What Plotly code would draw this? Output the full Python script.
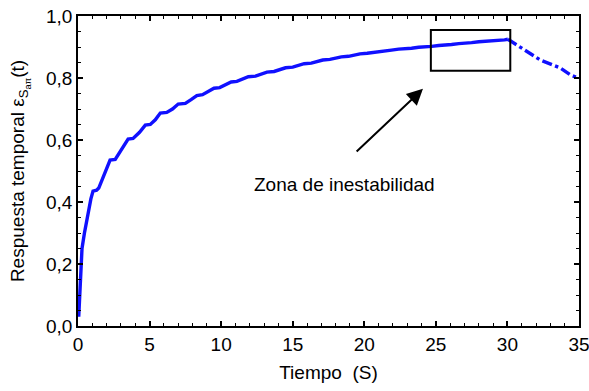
import plotly.graph_objects as go

# Solid part of the response curve
t_solid = [0.05, 0.15, 0.28, 0.45, 0.6, 0.75, 0.9, 1.05, 1.3, 1.45, 1.75, 2.0, 2.24, 2.6, 2.9,
           3.15, 3.5, 3.85, 4.3, 4.7, 5.05, 5.4, 5.75, 6.2, 6.6, 7.0, 7.5, 7.9, 8.3, 8.7,
           9.1, 9.5, 9.9, 10.3, 10.7, 11.1, 11.5, 11.9, 12.4, 12.8, 13.2, 13.7, 14.1, 14.5,
           15.0, 15.4, 15.8, 16.3, 16.7, 17.1, 17.6, 18.0, 18.4, 18.9, 19.3, 19.7, 20.2,
           20.6, 21.0, 21.5, 21.9, 22.4, 22.9, 23.3, 23.8, 24.3, 24.7, 25.2, 25.7, 26.1,
           26.6, 27.1, 27.5, 28.0, 28.5, 28.9, 29.4, 29.8, 30.03]
e_solid = [0.03, 0.13, 0.25, 0.30, 0.34, 0.38, 0.41, 0.435, 0.438, 0.445, 0.477, 0.51, 0.535,
           0.537, 0.56, 0.578, 0.603, 0.605, 0.625, 0.648, 0.650, 0.665, 0.687, 0.689, 0.70,
           0.716, 0.718, 0.73, 0.743, 0.746, 0.755, 0.767, 0.769, 0.777, 0.787, 0.789, 0.796,
           0.804, 0.806, 0.812, 0.819, 0.821, 0.827, 0.833, 0.835, 0.840, 0.846, 0.848, 0.853,
           0.858, 0.860, 0.864, 0.868, 0.870, 0.874, 0.878, 0.880, 0.883, 0.886, 0.888, 0.890,
           0.893, 0.894, 0.896, 0.899, 0.900, 0.902, 0.905, 0.906, 0.908, 0.911, 0.912, 0.914,
           0.917, 0.918, 0.919, 0.922, 0.923, 0.925]

# Dashed (unstable) part
t_dash = [30.03, 30.9, 32.3, 33.7, 34.4, 35.0]
e_dash = [0.925, 0.90, 0.858, 0.832, 0.81, 0.799]

# Instability box and arrow
box_x = [24.65, 30.2]
box_y = [0.823, 0.955]
arrow_tail = [19.36, 0.558]
arrow_tip = [24.1, 0.765]
label_pos = [18.6, 0.455]
label_text = "Zona de inestabilidad"

x_ticks = [0, 5, 10, 15, 20, 25, 30, 35]
y_ticks = [0.0, 0.2, 0.4, 0.6, 0.8, 1.0]

FONT = "Liberation Sans, Arial, sans-serif"
BLUE = "#1010ff"

fig = go.Figure()
fig.add_trace(go.Scatter(x=t_solid, y=e_solid, mode="lines",
                         line=dict(color=BLUE, width=3.4), showlegend=False))
fig.add_trace(go.Scatter(x=t_dash, y=e_dash, mode="lines",
                         line=dict(color=BLUE, width=3.4, dash="dashdot"), showlegend=False))

fig.add_shape(type="rect", xref="x", yref="y", x0=box_x[0], x1=box_x[1],
              y0=box_y[0], y1=box_y[1], line=dict(color="black", width=2))

fig.add_annotation(x=arrow_tip[0], y=arrow_tip[1], ax=arrow_tail[0], ay=arrow_tail[1],
                   xref="x", yref="y", axref="x", ayref="y", text="",
                   showarrow=True, arrowhead=2, arrowsize=1.6, arrowwidth=2,
                   arrowcolor="black")
fig.add_annotation(x=label_pos[0], y=label_pos[1], xref="x", yref="y", text=label_text,
                   showarrow=False, font=dict(family=FONT, size=19, color="black"))

axis_common = dict(showline=True, linecolor="black", linewidth=1.5, mirror="ticks",
                   ticks="inside", ticklen=5, tickwidth=1.5, tickcolor="black",
                   showgrid=False, zeroline=False, automargin=False,
                   ticklabeloverflow="allow",
                   tickfont=dict(family=FONT, size=19, color="black"))

fig.update_xaxes(range=[0, 35], tickvals=x_ticks,
                 ticktext=[str(v) for v in x_ticks],
                 minor=dict(dtick=1, ticks="inside", ticklen=3, tickwidth=1.2,
                            tickcolor="black", showgrid=False),
                 title=dict(text="Tiempo  (S)", font=dict(family=FONT, size=19, color="black"),
                            standoff=12),
                 **axis_common)
fig.update_yaxes(range=[0, 1.0], tickvals=y_ticks,
                 ticktext=[f"{v:.1f}".replace(".", ",") for v in y_ticks],
                 minor=dict(dtick=0.05, ticks="inside", ticklen=3, tickwidth=1.2,
                            tickcolor="black", showgrid=False),
                 title=dict(text="Respuesta temporal ε<sub>S<sub>aπ</sub></sub>(t)",
                            font=dict(family=FONT, size=19, color="black"), standoff=16),
                 **axis_common)

fig.update_layout(width=589, height=391, margin=dict(l=78, r=10, t=16, b=65),
                  plot_bgcolor="white", paper_bgcolor="white",
                  font=dict(family=FONT, size=19, color="black"))

fig.write_html("out.html")
